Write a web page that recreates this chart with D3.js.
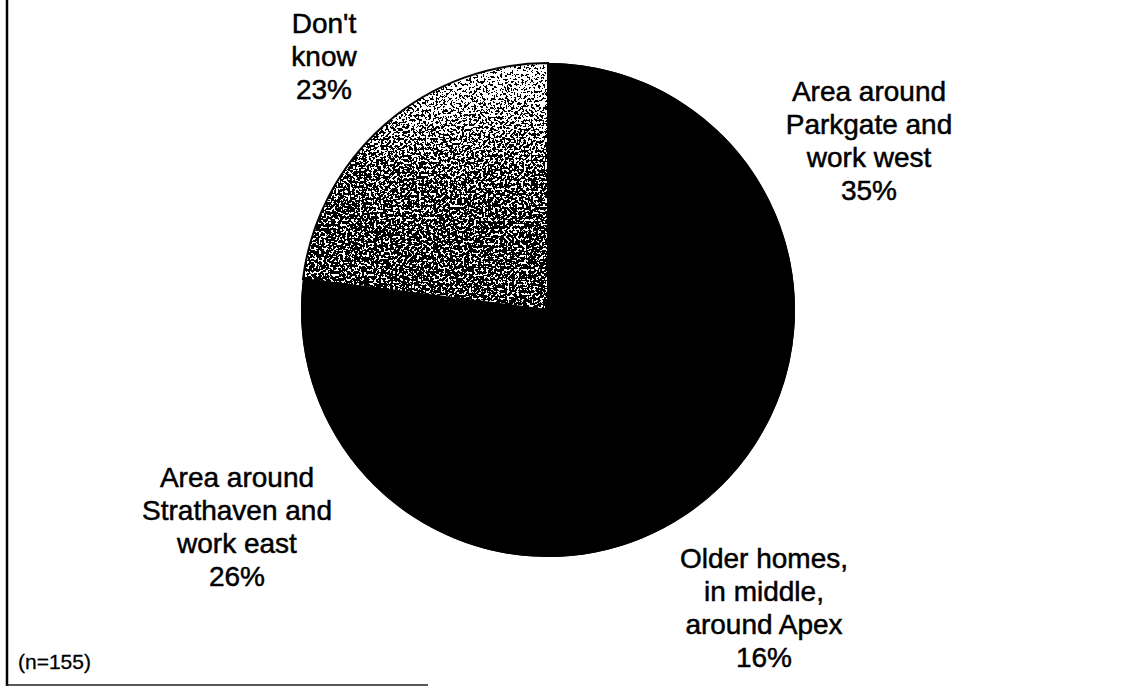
<!DOCTYPE html>
<html>
<head>
<meta charset="utf-8">
<script src="https://cdn.jsdelivr.net/npm/d3@7/dist/d3.min.js"></script>
<style>
  html, body { margin: 0; padding: 0; background: #fff; }
  svg { display: block; }
  text { font-family: "Liberation Sans", Arial, Helvetica, sans-serif; fill: #000; }
</style>
</head>
<body>
<svg id="chart" width="1127" height="687"></svg>
<script>
// Survey answers: where development should start
const categories = [
  "Area around Parkgate and work west",
  "Older homes, in middle, around Apex",
  "Area around Strathaven and work east",
  "Don't know"
];
const values = [35, 16, 26, 23];
const labelLines = [
  ["Area around", "Parkgate and", "work west"],
  ["Older homes,", "in middle,", "around Apex"],
  ["Area around", "Strathaven and", "work east"],
  ["Don't", "know"]
];
const sampleNote = "(n=155)";

// Layout
const W = 1127, H = 687;
const cx = 548, cy = 310, radius = 247;
const lineHeight = 33;
const labelFont = 28;
// first-baseline anchor of each label block (centre x, baseline y)
const labelAnchors = [
  [869, 101],
  [764, 568],
  [237, 487],
  [324, 33]
];

const svg = d3.select("#chart");
svg.append("rect").attr("width", W).attr("height", H).attr("fill", "#fff");

// Stippled grey fill: a vertical tone ramp dithered against noise
const defs = svg.append("defs");
const grad = defs.append("linearGradient")
  .attr("id", "tone")
  .attr("gradientUnits", "userSpaceOnUse")
  .attr("x1", 0).attr("x2", 0)
  .attr("y1", -radius).attr("y2", 0);
[[0, "#cfcfcf"], [0.2, "#9c9c9c"], [0.45, "#5e5e5e"], [0.7, "#474747"], [1, "#4c4c4c"]]
  .forEach(([o, c]) => grad.append("stop").attr("offset", o).attr("stop-color", c));

const f = defs.append("filter")
  .attr("id", "stipple")
  .attr("x", "0").attr("y", "0").attr("width", "1").attr("height", "1")
  .attr("color-interpolation-filters", "sRGB");
f.append("feTurbulence")
  .attr("type", "fractalNoise").attr("baseFrequency", 0.42)
  .attr("numOctaves", 3).attr("seed", 11).attr("result", "noise");
f.append("feColorMatrix")
  .attr("in", "noise").attr("type", "matrix")
  .attr("values", "1 0 0 0 0  1 0 0 0 0  1 0 0 0 0  0 0 0 0 1")
  .attr("result", "grayNoise");
f.append("feComposite")
  .attr("in", "SourceGraphic").attr("in2", "grayNoise")
  .attr("operator", "arithmetic")
  .attr("k1", 0).attr("k2", 1).attr("k3", 3).attr("k4", -1.5)
  .attr("result", "mixed");
const ct = f.append("feComponentTransfer").attr("in", "mixed").attr("result", "bw");
["feFuncR", "feFuncG", "feFuncB"].forEach(fn =>
  ct.append(fn).attr("type", "discrete").attr("tableValues", "0 1"));
f.append("feComposite")
  .attr("in", "bw").attr("in2", "SourceAlpha").attr("operator", "in");

// Pie
const pie = d3.pie().sort(null).value(d => d)
  .startAngle(0).endAngle(2 * Math.PI);
const arcs = pie(values);
const arc = d3.arc().innerRadius(0).outerRadius(radius);

const g = svg.append("g").attr("transform", `translate(${cx},${cy})`);
const isUnknown = i => categories[i] === "Don't know";

// solid disc underneath so the black slices merge without seams
g.append("circle").attr("r", radius).attr("fill", "#000");

g.selectAll("path.slice")
  .data(arcs)
  .join("path")
  .attr("class", "slice")
  .attr("d", arc)
  .attr("fill", (d, i) => isUnknown(i) ? "url(#tone)" : "#000")
  .attr("filter", (d, i) => isUnknown(i) ? "url(#stipple)" : null);

// dark rim on the stippled slice
g.selectAll("path.rim")
  .data(arcs.filter((d, i) => isUnknown(i)))
  .join("path")
  .attr("class", "rim")
  .attr("d", arc)
  .attr("fill", "none")
  .attr("stroke", "#000")
  .attr("stroke-width", 2);

// Labels
const labels = svg.append("g")
  .attr("font-size", labelFont)
  .attr("text-anchor", "middle")
  .attr("stroke", "#000").attr("stroke-width", 0.5);
labelLines.forEach((lines, i) => {
  const [lx, ly] = labelAnchors[i];
  const t = labels.append("text").attr("x", lx).attr("y", ly);
  lines.concat([values[i] + "%"]).forEach((s, k) => {
    t.append("tspan").attr("x", lx).attr("y", ly + k * lineHeight).text(s);
  });
});

// Frame lines
svg.append("line")
  .attr("x1", 7).attr("x2", 7).attr("y1", 0).attr("y2", 686)
  .attr("stroke", "#000").attr("stroke-width", 2.5);
svg.append("line")
  .attr("x1", 6).attr("x2", 428).attr("y1", 685).attr("y2", 685)
  .attr("stroke", "#222").attr("stroke-width", 1.6);

// Sample size
svg.append("text")
  .attr("x", 18).attr("y", 669)
  .attr("font-size", 21)
  .attr("stroke", "#000").attr("stroke-width", 0.3)
  .text(sampleNote);
</script>
</body>
</html>
